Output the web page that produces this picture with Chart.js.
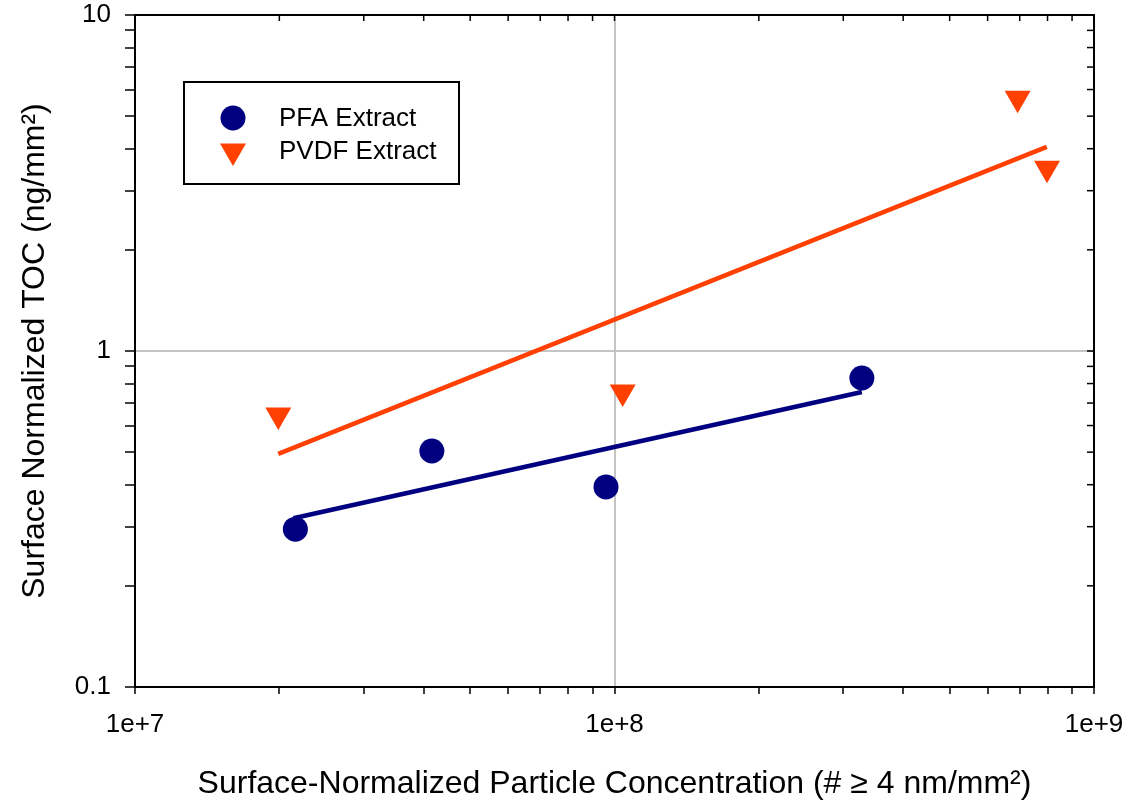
<!DOCTYPE html>
<html>
<head>
<meta charset="utf-8">
<title>Surface normalized TOC vs particle concentration</title>
<script src="https://cdn.jsdelivr.net/npm/chart.js@4/dist/chart.umd.min.js"></script>
<style>
  html, body { margin: 0; padding: 0; background: #fff; }
</style>
</head>
<body>
<canvas id="tocChart" width="1127" height="807"></canvas>
<script>
// values
const pfaX = [2.16e7, 4.16e7, 9.6e7, 3.28e8];
const pfaY = [0.295, 0.504, 0.394, 0.831];
const pvdfX = [1.99e7, 1.04e8, 6.93e8, 7.98e8];
const pvdfY = [0.645, 0.755, 5.65, 3.50];

// fitted lines (end points)
const pfaFitX = [2.14e7, 3.28e8];
const pfaFitY = [0.318, 0.755];
const pvdfFitX = [1.99e7, 7.97e8];
const pvdfFitY = [0.494, 4.05];

// ticks
const xTicks = [1e7, 2e7, 3e7, 4e7, 5e7, 6e7, 7e7, 8e7, 9e7,
                1e8, 2e8, 3e8, 4e8, 5e8, 6e8, 7e8, 8e8, 9e8, 1e9];
const yTicks = [0.1, 0.2, 0.3, 0.4, 0.5, 0.6, 0.7, 0.8, 0.9,
                1, 2, 3, 4, 5, 6, 7, 8, 9, 10];
const xMajor = [1e7, 1e8, 1e9];
const xMajorLabels = ['1e+7', '1e+8', '1e+9'];
const yMajor = [0.1, 1, 10];
const yMajorLabels = ['0.1', '1', '10'];

const NAVY = '#000080';
const ORANGE = '#ff4000';

Chart.defaults.font.family = "'Liberation Sans', Arial, sans-serif";
Chart.defaults.color = '#000';

const pts = (xs, ys) => xs.map((x, i) => ({ x: x, y: ys[i] }));
const same = (a, b) => Math.abs(a - b) / b < 1e-6;

function majorLabel(v, majors, labels) {
  const i = majors.findIndex(m => same(v, m));
  return i >= 0 ? labels[i] : '';
}

// grey grid only at the inner decade lines
function gridColor(ctx, majors) {
  if (!ctx.tick) return 'rgba(0,0,0,0)';
  const inner = majors.slice(1, -1);
  return inner.some(m => same(ctx.tick.value, m)) ? '#c4c4c4' : 'rgba(0,0,0,0)';
}

// box round the plot + small ticks on top and right
const framePlugin = {
  id: 'frame',
  afterDraw(chart) {
    const { ctx, chartArea: a, scales } = chart;
    ctx.save();
    ctx.strokeStyle = '#000';
    ctx.lineWidth = 1.5;
    scales.x.ticks.forEach(t => {
      const px = scales.x.getPixelForValue(t.value);
      if (px <= a.left + 1 || px >= a.right - 1) return;
      ctx.beginPath();
      ctx.moveTo(px, a.top);
      ctx.lineTo(px, a.top + 6);
      ctx.stroke();
    });
    scales.y.ticks.forEach(t => {
      const py = scales.y.getPixelForValue(t.value);
      if (py <= a.top + 1 || py >= a.bottom - 1) return;
      ctx.beginPath();
      ctx.moveTo(a.right, py);
      ctx.lineTo(a.right - 7, py);
      ctx.stroke();
    });
    ctx.lineWidth = 2;
    ctx.strokeRect(a.left, a.top, a.right - a.left, a.bottom - a.top);
    ctx.restore();
  }
};

// legend in a box inside the plot
const boxLegend = {
  id: 'boxLegend',
  afterDraw(chart) {
    const { ctx, chartArea: a } = chart;
    const bx = a.left + 49, by = a.top + 67, bw = 275, bh = 102;
    const rows = [by + 36, by + 69];
    ctx.save();
    ctx.fillStyle = '#fff';
    ctx.fillRect(bx, by, bw, bh);
    ctx.strokeStyle = '#000';
    ctx.lineWidth = 2;
    ctx.strokeRect(bx, by, bw, bh);
    [0, 1].forEach(i => {
      const ds = chart.data.datasets[i];
      ctx.fillStyle = ds.backgroundColor;
      ctx.strokeStyle = ds.backgroundColor;
      Chart.helpers.drawPoint(ctx, {
        pointStyle: ds.pointStyle,
        radius: ds.pointRadius,
        rotation: ds.rotation || 0,
        borderWidth: 0
      }, bx + 49, rows[i]);
      ctx.fillStyle = '#000';
      ctx.font = "26px 'Liberation Sans', Arial, sans-serif";
      ctx.textBaseline = 'middle';
      ctx.textAlign = 'left';
      ctx.fillText(ds.label, bx + 95, rows[i] + 1);
    });
    ctx.restore();
  }
};

const data = {
  datasets: [
    {
      label: 'PFA Extract',
      data: pts(pfaX, pfaY),
      pointStyle: 'circle',
      pointRadius: 12.5,
      pointHoverRadius: 12.5,
      borderWidth: 0,
      backgroundColor: NAVY,
      borderColor: NAVY
    },
    {
      label: 'PVDF Extract',
      data: pts(pvdfX, pvdfY),
      pointStyle: 'triangle',
      rotation: 180,
      pointRadius: 15,
      pointHoverRadius: 15,
      borderWidth: 0,
      backgroundColor: ORANGE,
      borderColor: ORANGE
    },
    {
      label: 'PFA fit',
      data: pts(pfaFitX, pfaFitY),
      showLine: true,
      pointRadius: 0,
      borderWidth: 4.5,
      borderColor: NAVY,
      backgroundColor: NAVY
    },
    {
      label: 'PVDF fit',
      data: pts(pvdfFitX, pvdfFitY),
      showLine: true,
      pointRadius: 0,
      borderWidth: 4.5,
      borderColor: ORANGE,
      backgroundColor: ORANGE
    }
  ]
};

const config = {
  type: 'scatter',
  data: data,
  options: {
    responsive: false,
    animation: false,
    events: [],
    layout: { padding: { top: 15, right: 33, left: 0, bottom: 0 } },
    plugins: {
      legend: { display: false },
      tooltip: { enabled: false }
    },
    scales: {
      x: {
        type: 'logarithmic',
        min: 1e7,
        max: 1e9,
        afterBuildTicks: s => { s.ticks = xTicks.map(v => ({ value: v })); },
        afterFit: s => { s.height = 120; s.paddingLeft = 0; s.paddingRight = 0; },
        ticks: {
          autoSkip: false,
          maxRotation: 0,
          padding: 15,
          color: '#000',
          font: { size: 26 },
          callback: v => majorLabel(v, xMajor, xMajorLabels)
        },
        grid: {
          color: ctx => gridColor(ctx, xMajor),
          lineWidth: 2,
          tickColor: '#000',
          tickWidth: 1.5,
          tickLength: 7
        },
        border: { color: '#000', width: 2 },
        title: {
          display: true,
          text: 'Surface-Normalized Particle Concentration (# \u2265 4 nm/mm\u00b2)',
          color: '#000',
          font: { size: 32 },
          padding: { top: 0, bottom: 4 }
        }
      },
      y: {
        type: 'logarithmic',
        min: 0.1,
        max: 10,
        afterBuildTicks: s => { s.ticks = yTicks.map(v => ({ value: v })); },
        afterFit: s => { s.width = 135; s.paddingTop = 0; s.paddingBottom = 0; },
        ticks: {
          autoSkip: false,
          padding: 14,
          color: '#000',
          font: { size: 26 },
          callback: v => majorLabel(v, yMajor, yMajorLabels)
        },
        grid: {
          color: ctx => gridColor(ctx, yMajor),
          lineWidth: 2,
          tickColor: '#000',
          tickWidth: 1.5,
          tickLength: 10
        },
        border: { color: '#000', width: 2 },
        title: {
          display: true,
          text: 'Surface Normalized TOC (ng/mm\u00b2)',
          color: '#000',
          font: { size: 32 },
          padding: { top: 16, bottom: 0 }
        }
      }
    }
  },
  plugins: [framePlugin, boxLegend]
};

const tocChart = new Chart(document.getElementById('tocChart'), config);
</script>
</body>
</html>
